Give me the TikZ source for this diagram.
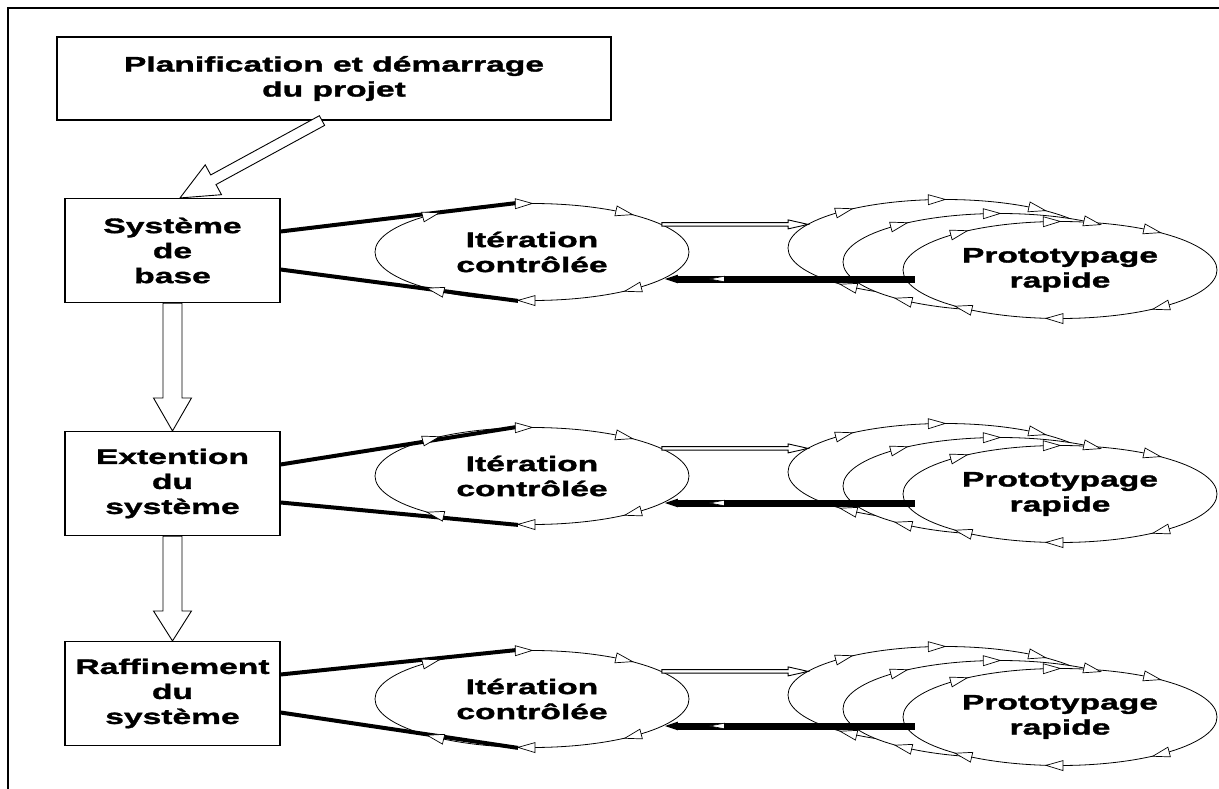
\documentclass[tikz,border=0pt]{standalone}
\usepackage{fontspec}
\setmainfont{Liberation Sans}[FakeStretch=1.6,Ligatures=NoCommon,BoldFeatures={FakeBold=1.6}]
\usetikzlibrary{shapes.geometric,calc,arrows.meta,decorations.markings}

% hollow block arrow from #1 to #2: shaft half width #3, head half width #4, head length #5
\newcommand\blockarrow[5]{%
  \coordinate (ba-h) at ($(#2)!#5!(#1)$);
  \draw[blockline] ($(#1)!#3!90:(#2)$) -- ($(ba-h)!#3!-90:(#1)$) -- ($(ba-h)!#4!-90:(#1)$)
    -- (#2) -- ($(ba-h)!#4!90:(#1)$) -- ($(ba-h)!#3!90:(#1)$) -- ($(#1)!#3!-90:(#2)$) -- cycle;
}

% open direction triangle on loop node #1 at parametric angle #2 (clockwise flow)
\newcommand\loopmark[2]{%
  \draw[loopmarkstyle, shift={($(#1.center)+({157*cos(#2)},{-48.5*sin(#2)})$)},
        rotate={atan2(-48.5*cos(#2),157*sin(#2))}]
    (8.5pt,0pt) -- (-8.5pt,5pt) -- (-8.5pt,-5pt) -- cycle;
}

\begin{document}
\begin{tikzpicture}[x=1pt,y=-1pt,
  lbl/.style={font=\fontsize{21}{25}\selectfont\bfseries, align=center},
  stage/.style={draw, line width=1.1pt, fill=white, inner sep=0pt,
                minimum width=215pt, minimum height=104pt, lbl},
  loopnode/.style={ellipse, draw, fill=white, line width=0.8pt, inner sep=0pt,
                   minimum width=314pt, minimum height=97pt, lbl},
  blockline/.style={draw, fill=white, line width=0.9pt, line join=miter},
  loopmarkstyle/.style={draw, fill=white, line width=0.7pt, line join=miter},
  feed/.style={line width=4pt},
  back/.style={line width=7pt, -{Triangle[length=16pt,width=7pt]},
               postaction={decorate},
               decoration={markings, mark=at position 0.78 with
                 {\draw[fill=white,line width=0.6pt] (8pt,0pt) -- (-7pt,2.8pt) -- (-7pt,-2.8pt) -- cycle;}}},
  frame/.style={line width=2.4pt}]

\useasboundingbox (0,0) rectangle (1219,789);
\fill[white] (0,0) rectangle (1219,789);

% outer frame
\draw[frame] (8,789) -- (8,8) -- (1219,8);

% phase boxes
\node[stage, minimum width=554pt, minimum height=83pt] (title) at (334,78.5)
  {Planification et démarrage\\du projet};
\node[stage] (sb) at (172.5,250.5) {Système\\de\\base};
\node[stage] (eb) at (172.5,483.5) {Extention\\du\\système};
\node[stage] (rb) at (172.5,693.5) {Raffinement\\du\\système};

% block arrows between phases
\coordinate (t0) at ([xshift=-12pt]title.south);
\coordinate (t1) at ([xshift=7.5pt]sb.north);
\blockarrow{t0}{t1}{5.5pt}{17pt}{38pt}
\blockarrow{sb.south}{eb.north}{9.5pt}{19pt}{33pt}
\blockarrow{eb.south}{rb.north}{9.5pt}{19pt}{30pt}

% one row of cycles per phase
\foreach \r/\dy/\bx in {1/0/sb,2/224/eb,3/447/rb}{
  \node[loopnode] (pa\r) at (945,{248+\dy}) {};
  \node[loopnode] (pb\r) at (1000,{262+\dy}) {};
  \node[loopnode] (pc\r) at (1060,{270+\dy}) {Prototypage\\rapide};
  \node[loopnode] (it\r) at (532,{252+\dy}) {Itération\\contrôlée};
  \draw[feed] ([yshift=19pt]\bx.east) -- ($(it\r.north)+(-16,0)$);
  \draw[feed] ([yshift=-19pt]\bx.east) -- ($(it\r.south)+(-14,0)$);
  \foreach \a in {54,93,130,232}{\loopmark{pa\r}{\a}\loopmark{pb\r}{\a}}
  \foreach \a in {54,93,130,232,268,310}{\loopmark{pc\r}{\a}\loopmark{it\r}{\a}}
  \coordinate (fs) at (it\r.12);
  \coordinate (fe) at (pa\r.170 |- fs);
  \blockarrow{fs}{fe}{1.8pt}{4.5pt}{20pt}
  \coordinate (rs) at ($(pc\r.west)+(12,9)$);
  \coordinate (re) at (it\r.-12);
  \draw[back] (rs) -- (re |- rs);
}
\end{tikzpicture}
\end{document}
